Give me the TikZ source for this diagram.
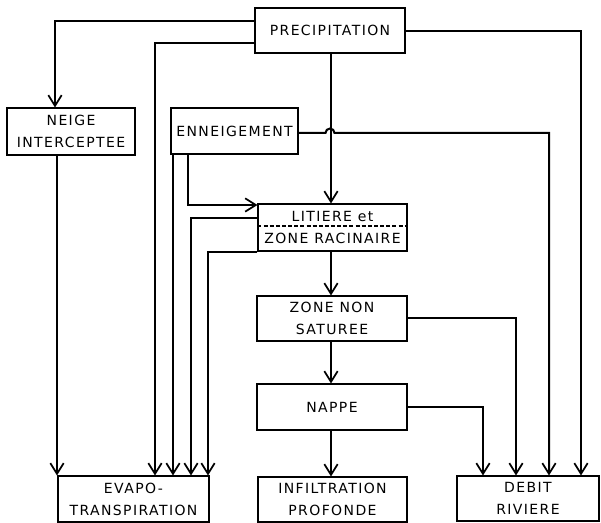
\documentclass[tikz,border=0pt]{standalone}
\usepackage{fontspec}
\setmainfont{DejaVu Sans}[LetterSpace=10]
\usetikzlibrary{arrows.meta}
\begin{document}
\begin{tikzpicture}[x=0.75pt,y=-0.75pt,
  box/.style={draw,line width=0.8pt,minimum width=#1*0.75pt,inner sep=0pt,align=center,font=\fontsize{10.5}{16.5}\selectfont},
  flow/.style={line width=1.5pt,-{Straight Barb[length=8pt,width=10pt,line width=1.3pt]}},
  plain/.style={line width=1.5pt}]
\useasboundingbox (0,0) rectangle (601,523);
\node[box=150,minimum height=45*0.75pt] (prec) at (330,30.5) {PRECIPITATION};
\node[box=128,minimum height=47*0.75pt] (neige) at (71,131.5) {NEIGE\\INTERCEPTEE};
\node[box=127,minimum height=46*0.75pt] (enn) at (234.5,131) {ENNEIGEMENT};
\node[box=149,minimum height=47*0.75pt,font=\fontsize{10.5}{17}\selectfont] (lit) at (332.5,227.5) {LITIERE et\\ZONE RACINAIRE};
\node[box=150,minimum height=45*0.75pt] (zone) at (332,318.5) {ZONE NON\\SATUREE};
\node[box=150,minimum height=46*0.75pt] (nappe) at (332,407) {NAPPE};
\node[box=151,minimum height=46*0.75pt] (evapo) at (133.5,499) {EVAPO-\\TRANSPIRATION};
\node[box=149,minimum height=45*0.75pt] (infil) at (332.5,499.5) {INFILTRATION\\PROFONDE};
\node[box=142,minimum height=45*0.75pt] (debit) at (528,498.5) {DEBIT\\RIVIERE};
\draw[line width=0.8pt,dash pattern=on 3pt off 1.6pt] (lit.west |- 0,226) -- (lit.east |- 0,226);
% from precipitation
\draw[flow] (prec.west |- 0,21) -| (55,0 |- neige.north);
\draw[flow] (prec.west |- 0,43) -| (155,0 |- evapo.north);
\draw[flow] (prec.east |- 0,31) -| (581,0 |- debit.north);
\draw[flow] (331,0 |- prec.south) -- (331,0 |- lit.north);
% neige
\draw[flow] (57,0 |- neige.south) -- (57,0 |- evapo.north);
% enneigement
\draw[flow] (188,0 |- enn.south) |- (lit.west |- 0,205);
\draw[flow] (173,0 |- enn.south) -- (173,0 |- evapo.north);
\draw[flow] (enn.east |- 0,133) -- (325.5,133) arc[start angle=180,end angle=0,radius=4.5*0.75pt] -- (549,133) -- (549,0 |- debit.north);
% litiere
\draw[flow] (lit.west |- 0,218) -| (191,0 |- evapo.north);
\draw[flow] (lit.south west) -| (208,0 |- evapo.north);
\draw[flow] (331,0 |- lit.south) -- (331,0 |- zone.north);
% zone non saturee
\draw[flow] (331,0 |- zone.south) -- (331,0 |- nappe.north);
\draw[flow] (zone.east |- 0,318) -| (516,0 |- debit.north);
% nappe
\draw[flow] (331,0 |- nappe.south) -- (331,0 |- infil.north);
\draw[flow] (nappe.east |- 0,407) -| (483,0 |- debit.north);
\end{tikzpicture}
\end{document}
